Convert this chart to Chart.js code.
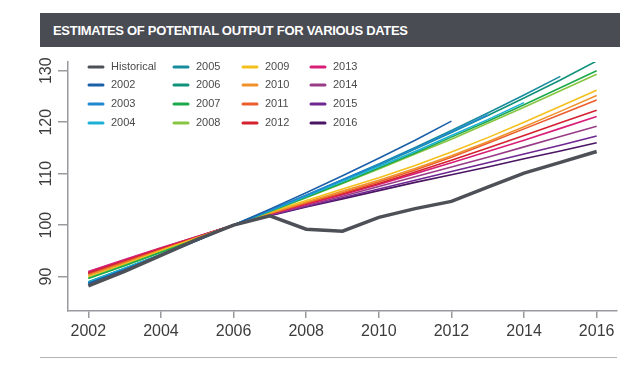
<!DOCTYPE html>
<html>
<head>
<meta charset="utf-8">
<script src="https://cdn.jsdelivr.net/npm/chart.js@4"></script>
<style>
  html, body { margin: 0; padding: 0; background: #fff; }
  body { width: 641px; height: 366px; position: relative; overflow: hidden; }
  #title {
    position: absolute; left: 40px; top: 13px; width: 567px; height: 34px;
    background: #4a4c54; color: #fff; padding-left: 13px;
    font: bold 13px "Liberation Sans", Arial, sans-serif; line-height: 35px;
    letter-spacing: -0.3px;
  }
  #rule { position: absolute; left: 40px; top: 357px; width: 577px; height: 1px; background: #b4b4b8; }
  #wrap { position: absolute; left: 0; top: 0; width: 641px; height: 366px; }
</style>
</head>
<body>
<div id="wrap"><canvas id="lineChart"></canvas></div>
<div id="title">ESTIMATES OF POTENTIAL OUTPUT FOR VARIOUS DATES</div>
<div id="rule"></div>
<script>
// years on the x axis
const years = [2002, 2003, 2004, 2005, 2006, 2007, 2008, 2009, 2010, 2011, 2012, 2013, 2014, 2015, 2016];
const xTicks = [2002, 2004, 2006, 2008, 2010, 2012, 2014, 2016];
const yTicks = [90, 100, 110, 120, 130];

// index, 2006 = 100
const historical = [88.2, 91.0, 94.1, 97.2, 100, 101.8, 99.2, 98.8, 101.5, 103.2, 104.6, 107.4, 110.1, 112.2, 114.3];

// estimates by vintage (each starts in 2002)
const est2002 = [88.7, 91.3, 94.1, 97.0, 100, 103.1, 106.3, 109.6, 113.0, 116.5, 120.2];
const est2003 = [88.6, 91.4, 94.2, 97.0, 100, 102.9, 105.8, 108.8, 111.8, 114.9, 118.1, 121.4];
const est2004 = [88.9, 91.6, 94.3, 97.1, 100, 102.8, 105.6, 108.5, 111.4, 114.3, 117.4, 120.5, 123.8];
const est2005 = [88.8, 91.5, 94.3, 97.1, 100, 102.9, 105.8, 108.8, 111.9, 115.1, 118.4, 121.8, 125.3, 128.9];
const est2006 = [89.0, 91.6, 94.3, 97.1, 100, 102.8, 105.7, 108.6, 111.7, 114.8, 118.0, 121.3, 124.7, 128.2, 131.9];
const est2007 = [89.6, 92.1, 94.7, 97.3, 100, 102.7, 105.4, 108.2, 111.1, 114.0, 117.1, 120.2, 123.4, 126.7, 130.0];
const est2008 = [89.7, 92.2, 94.7, 97.3, 100, 102.6, 105.3, 108.1, 110.9, 113.8, 116.7, 119.8, 122.9, 126.1, 129.3];
const est2009 = [89.9, 92.4, 95.0, 97.5, 100, 102.5, 104.8, 107.0, 109.2, 111.6, 114.2, 117.0, 120.0, 123.1, 126.2];
const est2010 = [90.2, 92.6, 95.1, 97.6, 100, 102.3, 104.5, 106.6, 108.7, 111.0, 113.5, 116.2, 119.1, 122.1, 125.2];
const est2011 = [90.4, 92.8, 95.2, 97.6, 100, 102.2, 104.3, 106.3, 108.4, 110.7, 113.2, 115.9, 118.7, 121.5, 124.3];
const est2012 = [90.7, 93.0, 95.4, 97.7, 100, 102.2, 104.2, 106.1, 108.1, 110.3, 112.6, 115.0, 117.4, 119.9, 122.3];
const est2013 = [91.0, 93.3, 95.6, 97.8, 100, 102.1, 104.0, 105.9, 107.9, 110.0, 112.1, 114.3, 116.5, 118.8, 121.1];
const est2014 = [90.9, 93.2, 95.5, 97.8, 100, 102.0, 103.8, 105.6, 107.5, 109.4, 111.3, 113.2, 115.2, 117.2, 119.2];
const est2015 = [90.7, 93.0, 95.4, 97.7, 100, 101.9, 103.6, 105.3, 107.0, 108.7, 110.4, 112.1, 113.8, 115.5, 117.3];
const est2016 = [90.6, 93.0, 95.3, 97.7, 100, 101.8, 103.5, 105.1, 106.7, 108.3, 109.8, 111.3, 112.9, 114.4, 116.0];

const vintageLabels = ['2002', '2003', '2004', '2005', '2006', '2007', '2008', '2009', '2010', '2011', '2012', '2013', '2014', '2015', '2016'];
const vintageValues = [est2002, est2003, est2004, est2005, est2006, est2007, est2008, est2009, est2010, est2011, est2012, est2013, est2014, est2015, est2016];
const vintageColors = ['#1a5fa8', '#1f88d0', '#1bb0d8', '#198b9e', '#10917a', '#1ca94c', '#88c541', '#f4c01c', '#ef922c', '#eb5d2c', '#d3212f', '#d81f78', '#983c87', '#6e2690', '#4a1563'];

function toPoints(vals) {
    return vals.map((v, i) => ({ x: years[i], y: v }));
}

const datasets = [{
    label: 'Historical',
    data: toPoints(historical),
    borderColor: '#4d5057',
    borderWidth: 3.5,
    order: 0
}];
vintageLabels.forEach((lab, i) => {
    datasets.push({
        label: lab,
        data: toPoints(vintageValues[i]),
        borderColor: vintageColors[i],
        borderWidth: 1.6,
        order: 1
    });
});

// legend in 4 columns, filled top to bottom
const gridLegend = {
    id: 'gridLegend',
    afterDraw(chart) {
        const ctx = chart.ctx;
        const colX = [88, 173, 242, 310];
        const rowY = [67, 85, 104, 123];
        ctx.save();
        ctx.font = '11px "Liberation Sans", Arial, sans-serif';
        ctx.textBaseline = 'middle';
        ctx.lineCap = 'round';
        chart.data.datasets.forEach((ds, i) => {
            const x = colX[Math.floor(i / 4)];
            const y = rowY[i % 4];
            ctx.strokeStyle = ds.borderColor;
            ctx.lineWidth = 3;
            ctx.beginPath();
            ctx.moveTo(x + 1, y);
            ctx.lineTo(x + 15, y);
            ctx.stroke();
            ctx.fillStyle = '#4a4a4a';
            ctx.fillText(ds.label, x + 23, y);
        });
        ctx.restore();
    }
};

// rotated y tick labels
const yLabels = {
    id: 'yLabels',
    afterDraw(chart) {
        const ctx = chart.ctx;
        const sc = chart.scales.y;
        ctx.save();
        ctx.font = '16px "Liberation Sans", Arial, sans-serif';
        ctx.fillStyle = '#3c3c3c';
        ctx.textAlign = 'center';
        ctx.textBaseline = 'middle';
        sc.ticks.forEach(t => {
            ctx.save();
            ctx.translate(47, sc.getPixelForValue(t.value));
            ctx.rotate(-Math.PI / 2);
            ctx.fillText(String(t.value), 0, 0);
            ctx.restore();
        });
        ctx.restore();
    }
};

document.addEventListener('DOMContentLoaded', function() {
    const ctx = document.getElementById('lineChart').getContext('2d');

    const lineChart = new Chart(ctx, {
        type: 'line',
        data: { datasets: datasets },
        options: {
            responsive: true,
            maintainAspectRatio: false,
            animation: false,
            layout: { padding: { left: 0, top: 62, right: 24, bottom: 14 } },
            elements: { point: { radius: 0 }, line: { tension: 0, borderCapStyle: 'butt' } },
            plugins: {
                legend: { display: false },
                tooltip: { enabled: false },
                title: { display: false }
            },
            scales: {
                x: {
                    type: 'linear',
                    min: 2001.44,
                    max: 2016.56,
                    afterBuildTicks: s => { s.ticks = xTicks.map(v => ({ value: v })); },
                    afterFit: s => { s.height = 41; },
                    grid: { display: true, drawOnChartArea: false, drawTicks: true, tickLength: 7, color: '#9a9a9e', lineWidth: 1.5 },
                    border: { display: true, color: '#9a9a9e', width: 1.5 },
                    ticks: {
                        padding: 4,
                        color: '#3c3c3c',
                        font: { family: '"Liberation Sans", Arial, sans-serif', size: 16 },
                        callback: v => String(v),
                        maxRotation: 0
                    }
                },
                y: {
                    min: 83.3,
                    max: 131.7,
                    afterBuildTicks: s => { s.ticks = yTicks.map(v => ({ value: v })); },
                    afterFit: s => { s.width = 68; },
                    grid: { display: true, drawOnChartArea: false, drawTicks: true, tickLength: 10, color: '#9a9a9e', lineWidth: 1.5 },
                    border: { display: true, color: '#9a9a9e', width: 1.5 },
                    ticks: { color: 'rgba(0,0,0,0)', font: { size: 16 } }
                }
            }
        },
        plugins: [gridLegend, yLabels]
    });
});
</script>
</body>
</html>
